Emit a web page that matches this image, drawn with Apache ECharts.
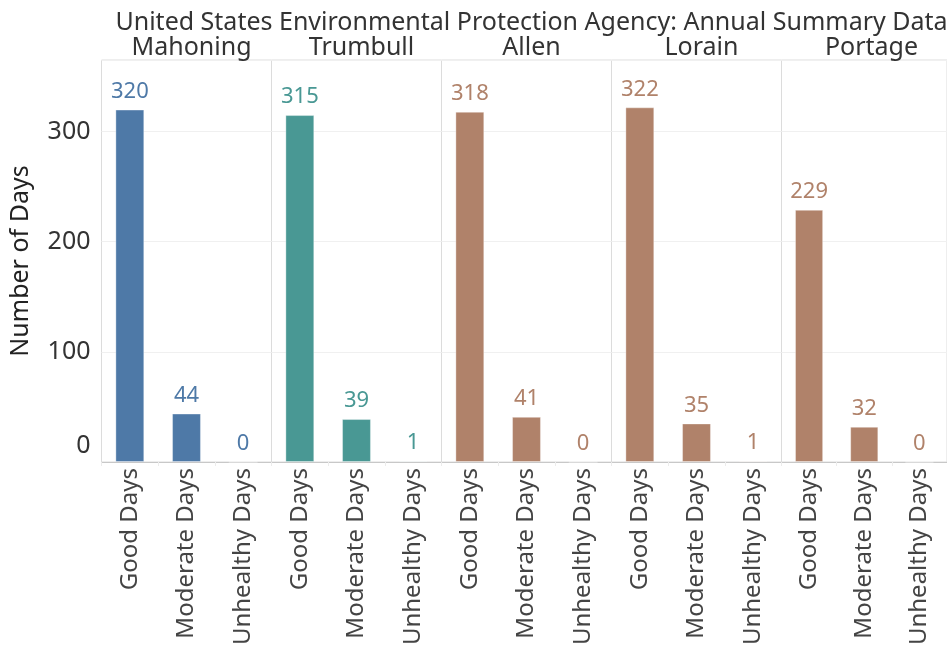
<!DOCTYPE html>
<html>
<head>
<meta charset="utf-8">
<script src="https://cdn.jsdelivr.net/npm/echarts@6/dist/echarts.min.js"></script>
<style>
html,body{margin:0;padding:0;background:#fff;}
#chart{width:947px;height:652px;}
</style>
</head>
<body>
<div id="chart"></div>
<script>
var chartTitle = 'United States Environmental Protection Agency: Annual Summary Data';
var counties = ['Mahoning', 'Trumbull', 'Allen', 'Lorain', 'Portage'];
var categories = ['Good Days', 'Moderate Days', 'Unhealthy Days'];
var goodDays = [320, 315, 318, 322, 229];
var moderateDays = [44, 39, 41, 35, 32];
var unhealthyDays = [0, 1, 0, 1, 0];
var countyColors = ['#4e79a7', '#499894', '#b0826a', '#b0826a', '#b0826a'];
var yTicks = [0, 100, 200, 300];

var FONT = 'Noto Sans';
var chart = echarts.init(document.getElementById('chart'));

var panelLeft = 101.5, panelWidth = 170, gridTop = 60, gridBottom = 190;
var grids = [], xAxes = [], yAxes = [], series = [], titles = [];

titles.push({
  text: chartTitle,
  left: panelLeft + panelWidth * counties.length / 2,
  top: 5,
  textAlign: 'center',
  textStyle: {fontFamily: FONT, fontSize: 25, fontWeight: 'normal', color: '#333'}
});

counties.forEach(function (c, i) {
  var left = panelLeft + i * panelWidth;
  grids.push({
    left: left, width: panelWidth, top: gridTop, bottom: gridBottom,
    show: true, borderColor: '#dcdcdc', borderWidth: 1, containLabel: false
  });
  titles.push({
    text: c,
    left: left + panelWidth / 2,
    top: 30,
    textAlign: 'center',
    textStyle: {fontFamily: FONT, fontSize: 25, fontWeight: 'normal', color: '#333'}
  });
  xAxes.push({
    type: 'category', gridIndex: i, data: categories,
    axisLine: {show: true, lineStyle: {color: '#c8c8c8', width: 1}},
    axisTick: {show: true, length: 4, lineStyle: {color: '#ececec'}},
    axisLabel: {rotate: 90, fontFamily: FONT, fontSize: 24, color: '#444', margin: 6, interval: 0}
  });
  yAxes.push({
    type: 'value', gridIndex: i, min: 0, max: 365, interval: 100,
    name: i === 0 ? 'Number of Days' : '',
    nameLocation: 'middle', nameGap: 68,
    nameTextStyle: {fontFamily: FONT, fontSize: 25, color: '#222'},
    axisLine: {show: false},
    axisTick: {show: false},
    splitLine: {show: true, lineStyle: {color: '#f0f0f0', width: 1}},
    axisLabel: {
      show: i === 0, fontFamily: FONT, fontSize: 25, color: '#333', margin: 11,
      formatter: function (v) {
        if (yTicks.indexOf(v) < 0) return '';
        return v === 0 ? '{z|0}' : String(v);
      },
      rich: {z: {fontFamily: FONT, fontSize: 25, color: '#333', padding: [0, 0, 32, 0]}}
    }
  });
  series.push({
    type: 'bar', xAxisIndex: i, yAxisIndex: i,
    data: [goodDays[i], moderateDays[i], unhealthyDays[i]],
    barWidth: '51%',
    itemStyle: {color: countyColors[i], borderColor: 'rgba(255,255,255,0.35)', borderWidth: 1},
    label: {
      show: true, position: 'top', distance: 7,
      fontFamily: FONT, fontSize: 22, color: countyColors[i]
    },
    animation: false
  });
});

chart.setOption({
  backgroundColor: '#fff',
  animation: false,
  title: titles,
  grid: grids,
  xAxis: xAxes,
  yAxis: yAxes,
  series: series
});
</script>
</body>
</html>
